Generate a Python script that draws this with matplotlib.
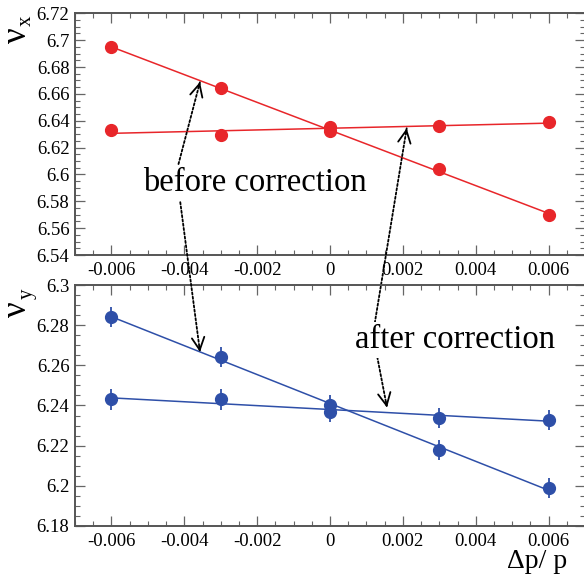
import numpy as np
import matplotlib
matplotlib.use("Agg")
import matplotlib.pyplot as plt
from matplotlib.ticker import MultipleLocator, FixedLocator

plt.rcParams['font.family'] = ['Liberation Serif', 'DejaVu Serif']
plt.rcParams['axes.unicode_minus'] = False

# ---- data ----
dpp = [-0.006, -0.003, 0.0, 0.003, 0.006]
nux_before = [6.695, 6.664, 6.632, 6.604, 6.570]
nux_after = [6.633, 6.629, 6.635, 6.636, 6.639]
nux_err = [0.0012, 0.0012, 0.0015, 0.0012, 0.0012]
nuy_before = [6.284, 6.264, 6.240, 6.218, 6.199]
nuy_after = [6.243, 6.243, 6.237, 6.234, 6.233]
nuy_err = [0.005, 0.005, 0.005, 0.005, 0.005]
xticks = [-0.006, -0.004, -0.002, 0.0, 0.002, 0.004, 0.006]
xticklabels = ['-0.006', '-0.004', '-0.002', '0', '0.002', '0.004', '0.006']
yticks_top = [6.54, 6.56, 6.58, 6.6, 6.62, 6.64, 6.66, 6.68, 6.7, 6.72]
yticklabels_top = ['6.54', '6.56', '6.58', '6.6', '6.62', '6.64', '6.66', '6.68', '6.7', '6.72']
yticks_bot = [6.18, 6.2, 6.22, 6.24, 6.26, 6.28, 6.3]
yticklabels_bot = ['6.18', '6.2', '6.22', '6.24', '6.26', '6.28', '6.3']

RED = '#e8262a'
BLUE = '#2e4fa8'
W, H = 584, 583

fig = plt.figure(figsize=(W / 100, H / 100), dpi=100)
fig.patch.set_facecolor('white')


def px_axes(left, top, right, bottom):
    return fig.add_axes([left / W, (H - bottom) / H, (right - left) / W, (bottom - top) / H])


ax1 = px_axes(75, 13.3, 585, 255)
ax2 = px_axes(75, 285, 585, 526)

for ax, yb, ya, ye, col, yt, ytl, ylim in [
        (ax1, nux_before, nux_after, nux_err, RED, yticks_top, yticklabels_top, (6.54, 6.72)),
        (ax2, nuy_before, nuy_after, nuy_err, BLUE, yticks_bot, yticklabels_bot, (6.18, 6.30))]:
    ax.set_facecolor('none')
    x = np.array(dpp)
    for ys in (yb, ya):
        ys = np.array(ys)
        p = np.polyfit(x, ys, 1)
        xl = np.array([x.min(), x.max()])
        ax.plot(xl, np.polyval(p, xl), color=col, lw=1.1, zorder=2)
        ax.errorbar(x, ys, yerr=ye, fmt='o', color=col, ms=8.5, elinewidth=1.3,
                    capsize=0, zorder=3)
    ax.set_xlim(-0.007, 0.007)
    ax.set_ylim(*ylim)
    ax.xaxis.set_major_locator(FixedLocator(xticks))
    ax.set_xticklabels(xticklabels)
    ax.xaxis.set_minor_locator(MultipleLocator(0.0005))
    ax.yaxis.set_major_locator(FixedLocator(yt))
    ax.set_yticklabels(ytl)
    ax.yaxis.set_minor_locator(MultipleLocator(0.005))
    ax.tick_params(which='both', direction='in', top=True, right=True,
                   colors='#666666', labelcolor='black', labelsize=13.5)
    ax.tick_params(which='major', length=7, width=0.9)
    ax.tick_params(which='minor', length=3.5, width=0.8)
    ax.tick_params(axis='x', pad=5)
    ax.tick_params(axis='y', pad=4)
    for s in ax.spines.values():
        s.set_color('#555555')
        s.set_linewidth(1.4)

# ---- axis labels (upright nu with subscript, rotated) ----
fig.text(17 / W, (H - 35) / H, 'ν', rotation=90, ha='center', va='center', fontsize=25)
fig.text(26 / W, (H - 21) / H, 'x', rotation=90, ha='center', va='center', fontsize=15)
fig.text(17 / W, (H - 309) / H, 'ν', rotation=90, ha='center', va='center', fontsize=25)
fig.text(27 / W, (H - 294) / H, 'y', rotation=90, ha='center', va='center', fontsize=15)
fig.text(567 / W, (H - 568) / H, 'Δp/ p', ha='right', va='baseline', fontsize=20)


# ---- annotations (dotted arrows) ----
def to_data(ax, px, py):
    inv = ax.transData.inverted()
    return inv.transform((px, H - py))


def dotted_arrow(ax, start, target):
    tx, ty = to_data(ax, *target)
    ax.annotate('', xy=(tx, ty), xycoords='data',
                xytext=(start[0], H - start[1]), textcoords='figure pixels',
                arrowprops=dict(arrowstyle='-', ls=(0, (1.2, 1.2)), lw=1.3, color='black',
                                shrinkA=0, shrinkB=0),
                annotation_clip=False, zorder=5)
    dx = start[0] - target[0]
    dy = -(start[1] - target[1])
    n = np.hypot(dx, dy)
    ax.annotate('', xy=(tx, ty), xycoords='data',
                xytext=(dx / n * 4, dy / n * 4), textcoords='offset points',
                arrowprops=dict(arrowstyle='->,head_length=0.6,head_width=0.3',
                                lw=1.3, color='black', mutation_scale=15,
                                shrinkA=0, shrinkB=0),
                annotation_clip=False, zorder=5)


dotted_arrow(ax1, (173, 185), (200, 82))
dotted_arrow(ax2, (178, 185), (200, 352))
dotted_arrow(ax1, (372, 340), (406.7, 128.3))
dotted_arrow(ax2, (374, 340), (387, 407.5))

fig.text(255 / W, (H - 183) / H, 'before correction', ha='center', va='center', fontsize=23.5,
         bbox=dict(facecolor='white', edgecolor='none', pad=2), zorder=10)
fig.text(455 / W, (H - 340) / H, 'after correction', ha='center', va='center', fontsize=23.5,
         bbox=dict(facecolor='white', edgecolor='none', pad=2), zorder=10)

fig.savefig('out.png', dpi=100)
